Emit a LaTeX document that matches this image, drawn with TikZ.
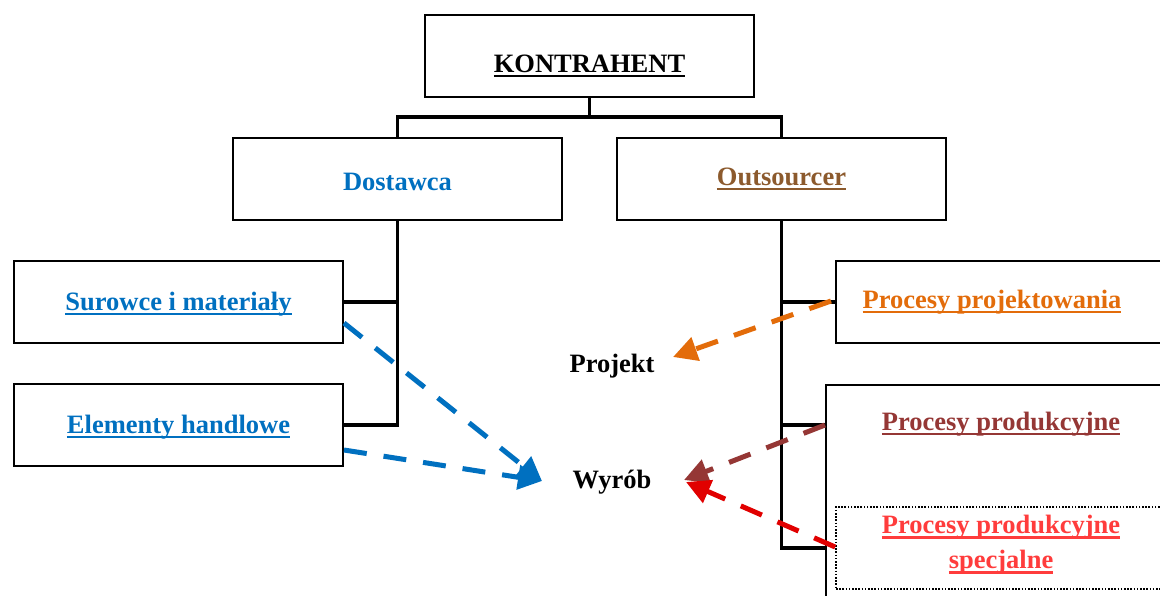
\documentclass[tikz,border=0pt]{standalone}
\usepackage{fontspec}
\setmainfont{Liberation Serif}
\usetikzlibrary{arrows.meta,calc}
\definecolor{cblue}{RGB}{0,112,192}
\definecolor{cbrown}{RGB}{140,90,45}
\definecolor{corange}{RGB}{227,108,10}
\definecolor{cdred}{RGB}{149,55,53}
\definecolor{cred}{RGB}{255,60,60}
\definecolor{carrred}{RGB}{225,0,0}
\newsavebox{\ulbox}
\newcommand{\ulb}[1]{\sbox{\ulbox}{#1}\rlap{\usebox{\ulbox}}\rule[-5.2pt]{\wd\ulbox}{2.6pt}}
\tikzset{
  boxnode/.style={draw=black, line width=2pt, minimum width=329pt, minimum height=82pt, inner sep=0pt,
    font=\fontsize{26.5}{34}\selectfont\bfseries, align=center, text depth=6pt},
  lbl/.style={font=\fontsize{26.5}{34}\selectfont\bfseries, inner sep=0pt, align=center},
  conn/.style={line width=3.5pt, line cap=rect},
  darr/.style={line width=5pt, dash pattern=on 23pt off 17pt,
    -{Triangle[length=24pt,width=24pt]}},
}
\begin{document}
\begin{tikzpicture}[x=1pt,y=-1pt]
\clip (0,0) rectangle (1160,595);
\fill[white] (0,0) rectangle (1160,595);
% boxes
\node[boxnode, text height=38pt] (kon) at (589.5,56) {\ulb{KONTRAHENT}};
\node[boxnode, text height=28pt, text=cblue] (dost) at (397.5,179) {Dostawca};
\node[boxnode, text height=18pt, text=cbrown] (outs) at (781.5,179) {\ulb{Outsourcer}};
\node[boxnode, text height=22pt, text=cblue] (sur) at (178.5,302) {\ulb{Surowce i materiały}};
\node[boxnode, text height=22pt, text=cblue] (ele) at (178.5,425) {\ulb{Elementy handlowe}};
\node[boxnode, minimum width=340pt] (proj) at (1006,302) {};
\node[lbl, anchor=base, text=corange] (projl) at (992,308) {\ulb{Procesy projektowania}};
\node[draw=black, line width=2pt, minimum width=340pt, minimum height=230pt, inner sep=0pt] (big) at (996,500) {};
\node[lbl, anchor=base, text=cdred] (prod) at (1001,430) {\ulb{Procesy produkcyjne}};
\node[draw=black, line width=1.6pt, dash pattern=on 1.6pt off 1.6pt, minimum width=340pt, minimum height=82pt, inner sep=0pt] (spb) at (1006,548) {};
\node[lbl, text=cred] (spl) at (1001,545) {\ulb{Procesy produkcyjne}\\[1pt]\ulb{specjalne}};
\node[lbl, anchor=base] (pjt) at (612,372) {Projekt};
\node[lbl, anchor=base] (wyr) at (612,488) {Wyrób};
% connectors
\coordinate (j) at (589.5,117);
\draw[conn] (kon.south) -- (j);
\draw[conn] (dost.north) -- (dost.north|-j) -- (outs.north|-j) -- (outs.north);
\draw[conn] (dost.south) -- (dost.south|-ele.east) -- (ele.east);
\draw[conn] (sur.east) -- (sur.east-|dost.south);
\draw[conn] (outs.south) -- (outs.south|-spb.west) -- (spb.west-|big.west);
\draw[conn] (proj.west-|outs.south) -- (proj.west);
\draw[conn] (outs.south|-425,425) -- (big.west|-425,425);
% arrows
\coordinate (wl) at (542,481);
\coordinate (wr) at (684,480);
\coordinate (wr2) at (686,482);
\coordinate (pr) at (673,357);
\draw[darr, cblue] ($(sur.east)+(0,21)$) -- (wl);
\draw[darr, cblue] ($(ele.east)+(0,25)$) -- (wl);
\draw[darr, corange] ($(proj.west)+(-4,-1)$) -- (pr);
\draw[darr, cdred] (big.west|-425,425) -- (wr);
\draw[darr, carrred] ($(spb.west)+(0,-1)$) -- (wr2);
\end{tikzpicture}
\end{document}
